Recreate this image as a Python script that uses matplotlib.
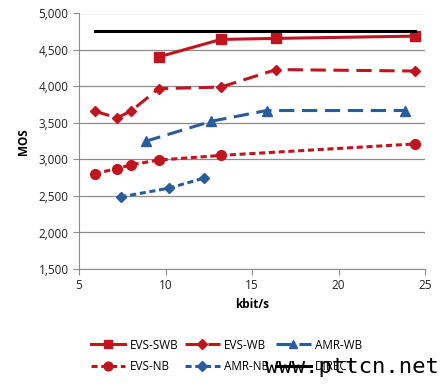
import matplotlib.pyplot as plt
from matplotlib.ticker import FuncFormatter

plt.rcParams['font.family'] = ['Open Sans', 'DejaVu Sans']

RED = '#C0141E'
BLUE = '#2A5B9B'

# bitrates (kbit/s) and MOS per codec
swb_x = [9.6, 13.2, 16.4, 24.4]
swb_y = [4405, 4645, 4659, 4690]

wb_x = [5.9, 7.2, 8.0, 9.6, 13.2, 16.4, 24.4]
wb_y = [3662, 3571, 3662, 3970, 3992, 4232, 4212]

amrwb_x = [8.85, 12.65, 15.85, 23.85]
amrwb_y = [3249, 3524, 3671, 3671]

nb_x = [5.9, 7.2, 8.0, 9.6, 13.2, 24.4]
nb_y = [2808, 2873, 2928, 2992, 3056, 3213]

amrnb_x = [7.4, 10.2, 12.2]
amrnb_y = [2487, 2607, 2744]

direct_x = [5.9, 24.4]
direct_y = [4763, 4763]

fig = plt.figure(figsize=(4.47, 3.85), dpi=100)
ax = fig.add_axes([79/447, 1 - 269/385, 346/447, 255.5/385])

h = {}
h['EVS-SWB'], = ax.plot(swb_x, swb_y, '-', color=RED, lw=2.2, marker='s', ms=7)
h['EVS-WB'], = ax.plot(wb_x, wb_y, color=RED, lw=2.2, dashes=(5, 2.5), marker='D', ms=5.5)
h['AMR-WB'], = ax.plot(amrwb_x, amrwb_y, color=BLUE, lw=2.2, dashes=(5, 2.5), marker='^', ms=7)
h['EVS-NB'], = ax.plot(nb_x, nb_y, color=RED, lw=2.2, dashes=(2, 1.2), marker='o', ms=7)
h['AMR-NB'], = ax.plot(amrnb_x, amrnb_y, color=BLUE, lw=2.2, dashes=(2, 1.2), marker='D', ms=5.5)
h['DIRECT'], = ax.plot(direct_x, direct_y, '-', color='black', lw=2.2)

ax.set_xlim(5, 25)
ax.set_ylim(1500, 5000)
ax.set_xticks([5, 10, 15, 20, 25])
ax.set_yticks(range(1500, 5001, 500))
ax.yaxis.set_major_formatter(FuncFormatter(lambda v, p: f'{int(v):,}'))
ax.grid(axis='y', color='#8c8c8c', lw=0.9)
ax.set_axisbelow(True)
for s in ['top', 'right']:
    ax.spines[s].set_visible(False)
for s in ['left', 'bottom']:
    ax.spines[s].set_color('#8c8c8c')
ax.tick_params(colors='#8c8c8c', labelcolor='#222222', labelsize=8.5, length=4)

ax.set_ylabel('MOS', fontweight='bold', fontsize=8.5, labelpad=6)
ax.set_xlabel('kbit/s', fontweight='bold', fontsize=8.5, labelpad=4)

# row-major order in the legend: matplotlib fills columns first
order = ['EVS-SWB', 'EVS-NB', 'EVS-WB', 'AMR-NB', 'AMR-WB', 'DIRECT']
fig.legend([h[k] for k in order], order, loc='upper left',
           bbox_to_anchor=(80/447, 1 - 328/385), ncol=3, frameon=False,
           fontsize=8.5, handlelength=2.9, columnspacing=0.6,
           handletextpad=0.4, labelspacing=0.7, markerscale=0.9)

fig.text(265/447, 1 - 367/385, 'www.pttcn.net', family='DejaVu Sans Mono',
         fontsize=16, va='center', color='black')

fig.savefig('out.png', dpi=100)
